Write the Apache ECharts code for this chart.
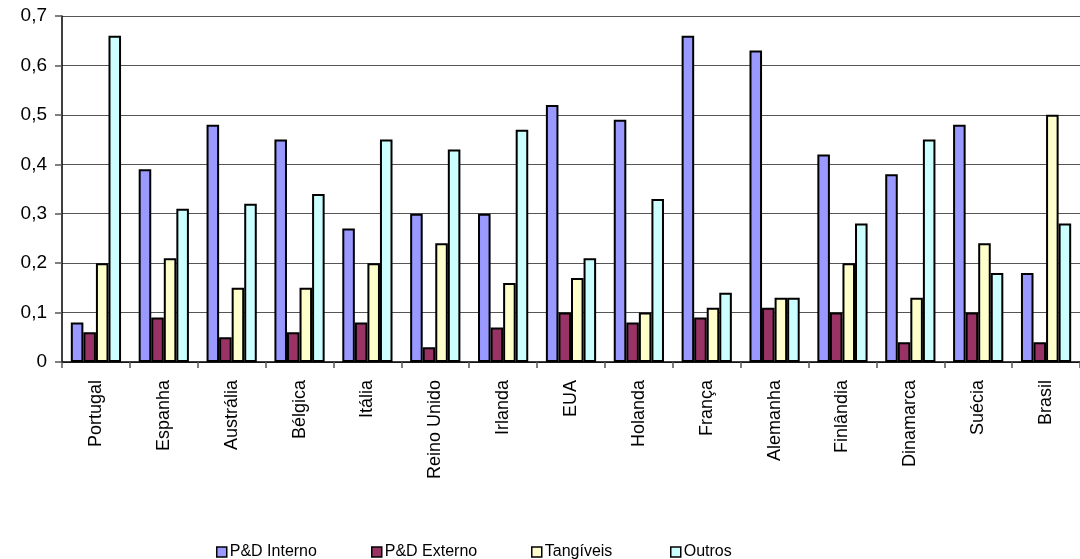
<!DOCTYPE html>
<html>
<head>
<meta charset="utf-8">
<script src="https://cdn.jsdelivr.net/npm/echarts@6/dist/echarts.min.js"></script>
<style>html,body{margin:0;padding:0;background:#fff;}#c{width:1080px;height:559px;}</style>
</head>
<body>
<div id="c"></div>
<script>
const categories = ['Portugal','Espanha','Austrália','Bélgica','Itália','Reino Unido','Irlanda','EUA','Holanda','França','Alemanha','Finlândia','Dinamarca','Suécia','Brasil'];
const seriesNames = ['P&D Interno','P&D Externo','Tangíveis','Outros'];
const pdInterno = [0.08,0.39,0.48,0.45,0.27,0.30,0.30,0.52,0.49,0.66,0.63,0.42,0.38,0.48,0.18];
const pdExterno = [0.06,0.09,0.05,0.06,0.08,0.03,0.07,0.10,0.08,0.09,0.11,0.10,0.04,0.10,0.04];
const tangiveis = [0.20,0.21,0.15,0.15,0.20,0.24,0.16,0.17,0.10,0.11,0.13,0.20,0.13,0.24,0.50];
const outros    = [0.66,0.31,0.32,0.34,0.45,0.43,0.47,0.21,0.33,0.14,0.13,0.28,0.45,0.18,0.28];
const yTicks = [0,0.1,0.2,0.3,0.4,0.5,0.6,0.7];

const colors = ['#9999FF','#993366','#FFFFCC','#CCFFFF'];
const values = [pdInterno, pdExterno, tangiveis, outros];
const legendLefts = [211, 366, 526, 665];
const font = 'Liberation Sans, Arial, sans-serif';

const chart = echarts.init(document.getElementById('c'), null, {renderer:'canvas'});
chart.setOption({
  animation:false,
  color: colors,
  textStyle:{fontFamily:font},
  grid:{left:62, right:-5, top:16, bottom:197, containLabel:false},
  legend: seriesNames.map((n,i)=>({
    left:legendLefts[i], top:539, itemWidth:10, itemHeight:10,
    icon:'rect',
    data:[n],
    textStyle:{fontFamily:font, fontSize:16, color:'#000', padding:[2,0,0,-2]},
    itemStyle:{borderColor:'#000', borderWidth:1.5}
  })),
  xAxis:{
    type:'category', data:categories,
    axisLine:{lineStyle:{color:'#000', width:1.5}},
    axisTick:{show:true, length:6, lineStyle:{color:'#555', width:1.5}},
    axisLabel:{rotate:90, margin:18, fontSize:18, color:'#000', fontFamily:font, interval:0}
  },
  yAxis:{
    type:'value', min:0, max:0.7, interval:0.1,
    axisLine:{show:true, lineStyle:{color:'#000', width:1.5}},
    axisTick:{show:true, length:7, lineStyle:{color:'#555', width:1.5}},
    axisLabel:{fontSize:19, color:'#000', fontFamily:font, margin:15,
      formatter: v => yTicks.includes(Math.round(v*10)/10) ? (v===0 ? '0' : v.toFixed(1).replace('.', ',')) : ''},
    splitLine:{show:true, lineStyle:{color:'#555', width:1.2}}
  },
  series: seriesNames.map((n,i)=>({
    name:n, type:'bar', data:values[i],
    barGap:'0%', barCategoryGap:'26%',
    itemStyle:{color:colors[i], borderColor:'#000', borderWidth:2}
  }))
});
</script>
</body>
</html>
